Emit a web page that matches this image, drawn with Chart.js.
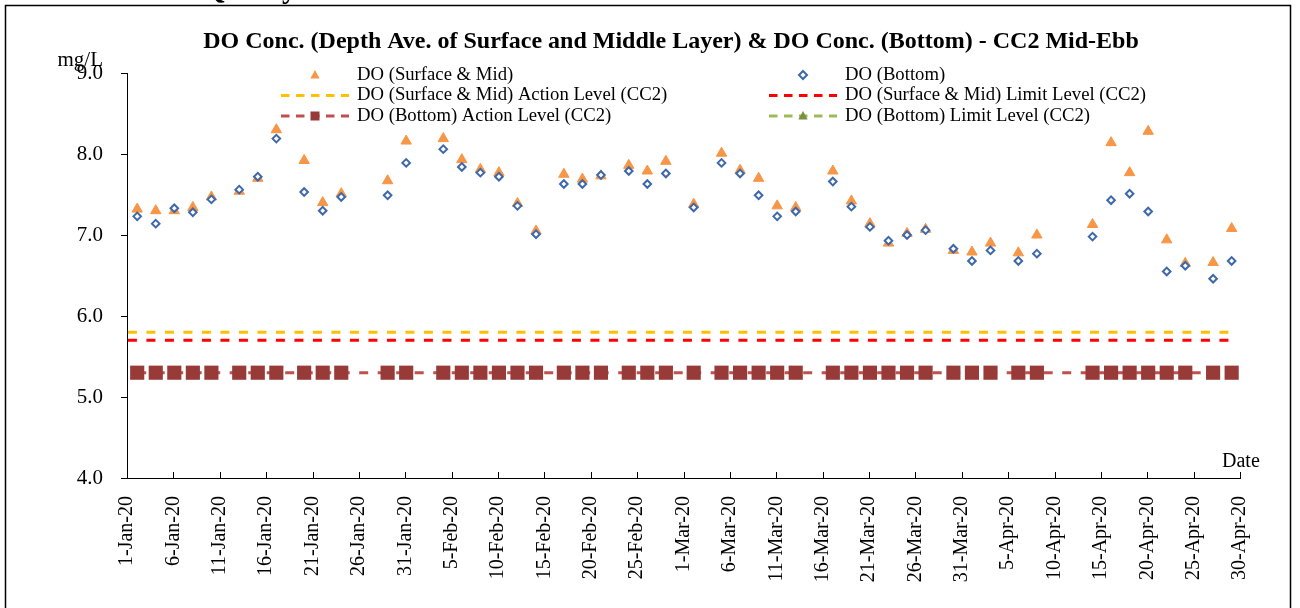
<!DOCTYPE html>
<html>
<head>
<meta charset="utf-8">
<script src="https://cdn.jsdelivr.net/npm/chart.js@4.4.0/dist/chart.umd.min.js"></script>
<style>
  html, body { margin: 0; padding: 0; background: #fff; }
  #wrap { width: 1300px; height: 608px; }
</style>
</head>
<body>
<div id="wrap"><canvas id="myChart" width="1300" height="608"></canvas></div>
<script>
//sampling dates (mid-ebb) at CC2
var sampleDates = ['2-Jan-20', '4-Jan-20', '6-Jan-20', '8-Jan-20', '10-Jan-20', '13-Jan-20', '15-Jan-20', '17-Jan-20',
  '20-Jan-20', '22-Jan-20', '24-Jan-20', '29-Jan-20', '31-Jan-20',
  '4-Feb-20', '6-Feb-20', '8-Feb-20', '10-Feb-20', '12-Feb-20', '14-Feb-20', '17-Feb-20', '19-Feb-20',
  '21-Feb-20', '24-Feb-20', '26-Feb-20', '28-Feb-20',
  '2-Mar-20', '5-Mar-20', '7-Mar-20', '9-Mar-20', '11-Mar-20', '13-Mar-20', '17-Mar-20', '19-Mar-20',
  '21-Mar-20', '23-Mar-20', '25-Mar-20', '27-Mar-20', '30-Mar-20',
  '1-Apr-20', '3-Apr-20', '6-Apr-20', '8-Apr-20', '14-Apr-20', '16-Apr-20', '18-Apr-20', '20-Apr-20',
  '22-Apr-20', '24-Apr-20', '27-Apr-20', '29-Apr-20'];

//DO depth average of surface and middle layer (mg/L)
var surfMid = [7.32, 7.30, 7.30, 7.34, 7.47, 7.54, 7.70, 8.30, 7.92, 7.40, 7.51, 7.67, 8.16,
  8.19, 7.93, 7.81, 7.77, 7.39, 7.05, 7.75, 7.69, 7.73, 7.86, 7.79, 7.91,
  7.38, 8.01, 7.80, 7.70, 7.36, 7.34, 7.79, 7.42, 7.14, 6.90, 7.02, 7.07, 6.81,
  6.79, 6.90, 6.78, 7.00, 7.13, 8.14, 7.77, 8.28, 6.94, 6.65, 6.66, 7.08];

//DO bottom layer (mg/L)
var bottom = [7.23, 7.14, 7.33, 7.28, 7.44, 7.56, 7.72, 8.19, 7.53, 7.30, 7.47, 7.49, 7.89,
  8.06, 7.84, 7.77, 7.72, 7.36, 7.01, 7.63, 7.63, 7.74, 7.79, 7.63, 7.76,
  7.34, 7.89, 7.76, 7.49, 7.23, 7.29, 7.66, 7.35, 7.10, 6.93, 7.00, 7.06, 6.83,
  6.68, 6.81, 6.68, 6.77, 6.98, 7.43, 7.51, 7.29, 6.55, 6.62, 6.46, 6.68];

//action / limit levels (mg/L)
var levelDates = ['1-Jan-20', '29-Apr-20'];
var surfActionLevel = 5.8;
var surfLimitLevel = 5.7;
var bottomActionLevel = 5.3;

var monthNames = ['Jan', 'Feb', 'Mar', 'Apr', 'May', 'Jun', 'Jul', 'Aug', 'Sep', 'Oct', 'Nov', 'Dec'];
var yTicks = [4, 5, 6, 7, 8, 9];

var FONT = "'Liberation Serif', 'Times New Roman', serif";
var day0 = Date.UTC(2020, 0, 1);

//day number counted from 1-Jan-20
function dayIndex(s) {
  var p = s.split('-');
  return (Date.UTC(2000 + Number(p[2]), monthNames.indexOf(p[1]), Number(p[0])) - day0) / 864e5;
}
function dayLabel(v) {
  var d = new Date(day0 + Math.round(v) * 864e5);
  return d.getUTCDate() + '-' + monthNames[d.getUTCMonth()] + '-' + String(d.getUTCFullYear()).slice(2);
}
function pts(dates, values) {
  return dates.map(function (s, i) { return { x: dayIndex(s) + 0.1, y: values[i] }; });
}
function level(dates, v) {
  return dates.map(function (s) { return { x: dayIndex(s) + 0.1, y: v }; });
}

var legendItems = [
  { text: 'DO (Surface & Mid)', col: 0, row: 0, marker: 'triangle', fill: '#f79646', stroke: '#f79646' },
  { text: 'DO (Bottom)', col: 1, row: 0, marker: 'diamond', fill: '#ffffff', stroke: '#3d68aa' },
  { text: 'DO (Surface & Mid) Action Level (CC2)', col: 0, row: 1, line: '#ffc000' },
  { text: 'DO (Surface & Mid) Limit Level (CC2)', col: 1, row: 1, line: '#ff0000' },
  { text: 'DO (Bottom) Action Level (CC2)', col: 0, row: 2, line: '#c0504d', marker: 'square', fill: '#983a37', stroke: '#983a37' },
  { text: 'DO (Bottom) Limit Level (CC2)', col: 1, row: 2, line: '#9bbb59', marker: 'triangle', fill: '#77933c', stroke: '#77933c' }
];

function drawMarker(ctx, type, x, y, fill, stroke) {
  ctx.save();
  ctx.fillStyle = fill; ctx.strokeStyle = stroke;
  ctx.setLineDash([]);
  ctx.beginPath();
  if (type === 'triangle') {
    ctx.moveTo(x, y - 5); ctx.lineTo(x + 4.6, y + 3.5); ctx.lineTo(x - 4.6, y + 3.5); ctx.closePath();
    ctx.fill();
  } else if (type === 'square') {
    ctx.rect(x - 4.5, y - 4.5, 9, 9); ctx.fill();
  } else {
    ctx.lineWidth = 2;
    ctx.moveTo(x, y - 4); ctx.lineTo(x + 4, y); ctx.lineTo(x, y + 4); ctx.lineTo(x - 4, y); ctx.closePath();
    ctx.fill(); ctx.stroke();
  }
  ctx.restore();
}

var decor = {
  id: 'decor',
  afterDraw: function (chart) {
    var ctx = chart.ctx, xs = chart.scales.x, area = chart.chartArea;
    ctx.save();

    //x tick marks point up into the plot
    ctx.strokeStyle = '#000'; ctx.lineWidth = 1;
    xs.ticks.forEach(function (t) {
      var px = Math.round(xs.getPixelForValue(t.value)) + 0.5;
      ctx.beginPath(); ctx.moveTo(px, area.bottom); ctx.lineTo(px, area.bottom - 6); ctx.stroke();
    });

    //frame
    ctx.lineWidth = 1.5;
    ctx.strokeRect(5.5, 5.5, 1285, 700);

    //cut-off heading above frame
    ctx.fillStyle = '#000';
    ctx.font = 'bold 29px ' + FONT;
    ctx.textAlign = 'left'; ctx.textBaseline = 'alphabetic';
    ctx.fillText('Quality', 203, -2);

    //title
    ctx.font = 'bold 24px ' + FONT;
    ctx.textAlign = 'center'; ctx.textBaseline = 'middle';
    ctx.fillText('DO Conc. (Depth Ave. of Surface and Middle Layer) & DO Conc. (Bottom) - CC2 Mid-Ebb', 671, 42);

    //axis titles
    ctx.font = '21px ' + FONT;
    ctx.textAlign = 'right';
    ctx.fillText('mg/L', 103, 60);
    ctx.textAlign = 'left';
    ctx.font = '20px ' + FONT;
    ctx.fillText('Date', 1222, 462);

    //legend, two columns
    var colMarker = [315, 803], colText = [357, 845], rowY = [75, 95.5, 116];
    ctx.font = '18.7px ' + FONT;
    legendItems.forEach(function (it) {
      var mx = colMarker[it.col], y = rowY[it.row];
      if (it.line) {
        ctx.save();
        ctx.strokeStyle = it.line; ctx.lineWidth = 3;
        ctx.setLineDash([8.5, 6.5]);
        ctx.beginPath(); ctx.moveTo(mx - 34, y); ctx.lineTo(mx + 34, y); ctx.stroke();
        ctx.restore();
      }
      if (it.marker) drawMarker(ctx, it.marker, mx, y, it.fill, it.stroke);
      ctx.fillStyle = '#000';
      ctx.textAlign = 'left'; ctx.textBaseline = 'middle';
      ctx.fillText(it.text, colText[it.col], y);
    });
    ctx.restore();
  }
};

var ctx = document.getElementById('myChart').getContext('2d');

var myChart = new Chart(ctx, {
  type: 'line',
  data: {
    datasets: [
      {
        label: 'DO (Surface & Mid)',
        data: pts(sampleDates, surfMid),
        showLine: false,
        pointStyle: 'triangle',
        pointRadius: 6,
        pointBackgroundColor: '#f79646',
        pointBorderColor: '#f79646',
        pointBorderWidth: 1,
        order: 2
      },
      {
        label: 'DO (Bottom)',
        data: pts(sampleDates, bottom),
        showLine: false,
        pointStyle: 'rectRot',
        pointRadius: 3.8,
        pointBackgroundColor: '#ffffff',
        pointBorderColor: '#3d68aa',
        pointBorderWidth: 2,
        order: 1
      },
      {
        label: 'DO (Surface & Mid) Action Level (CC2)',
        data: level(levelDates, surfActionLevel),
        borderColor: '#ffc000',
        borderWidth: 3,
        borderDash: [9, 9.5],
        pointRadius: 0,
        order: 3
      },
      {
        label: 'DO (Surface & Mid) Limit Level (CC2)',
        data: level(levelDates, surfLimitLevel),
        borderColor: '#ff0000',
        borderWidth: 3,
        borderDash: [9, 9.5],
        pointRadius: 0,
        order: 4
      },
      {
        label: 'DO (Bottom) Action Level (CC2)',
        data: level(sampleDates, bottomActionLevel),
        borderColor: '#c0504d',
        borderWidth: 3,
        borderDash: [9, 9.5],
        pointStyle: 'rect',
        pointRadius: 10,
        pointBackgroundColor: '#983a37',
        pointBorderColor: '#983a37',
        pointBorderWidth: 0,
        order: 5
      },
      {
        label: 'DO (Bottom) Limit Level (CC2)',
        data: [],
        borderColor: '#9bbb59',
        borderWidth: 3,
        borderDash: [9, 9.5],
        pointStyle: 'triangle',
        pointBackgroundColor: '#77933c',
        order: 6
      }
    ]
  },
  options: {
    responsive: false,
    animation: false,
    devicePixelRatio: 1,
    layout: { padding: { top: 73, left: 0, right: 60, bottom: 0 } },
    plugins: {
      legend: { display: false },
      title: { display: false },
      tooltip: { enabled: false }
    },
    scales: {
      x: {
        type: 'linear',
        min: 0,
        max: 120,
        afterFit: function (s) { s.height = 130; },
        afterBuildTicks: function (s) {
          var t = [];
          for (var v = 0; v <= 120; v += 5) t.push({ value: v });
          s.ticks = t;
        },
        grid: { display: false },
        border: { display: true, color: '#000', width: 1 },
        ticks: {
          autoSkip: false,
          minRotation: 90,
          maxRotation: 90,
          padding: 10,
          color: '#000',
          font: { family: FONT, size: 20 },
          callback: function (v) { return dayLabel(v); }
        }
      },
      y: {
        min: 4,
        max: 9,
        afterFit: function (s) { s.width = 127; },
        afterBuildTicks: function (s) { s.ticks = yTicks.map(function (v) { return { value: v }; }); },
        grid: { display: true, drawOnChartArea: false, drawTicks: true, tickLength: 6, color: '#000' },
        border: { display: true, color: '#000', width: 1 },
        ticks: {
          padding: 18,
          color: '#000',
          font: { family: FONT, size: 21 },
          callback: function (v) { return Number(v).toFixed(1); }
        }
      }
    }
  },
  plugins: [decor]
});
</script>
</body>
</html>
